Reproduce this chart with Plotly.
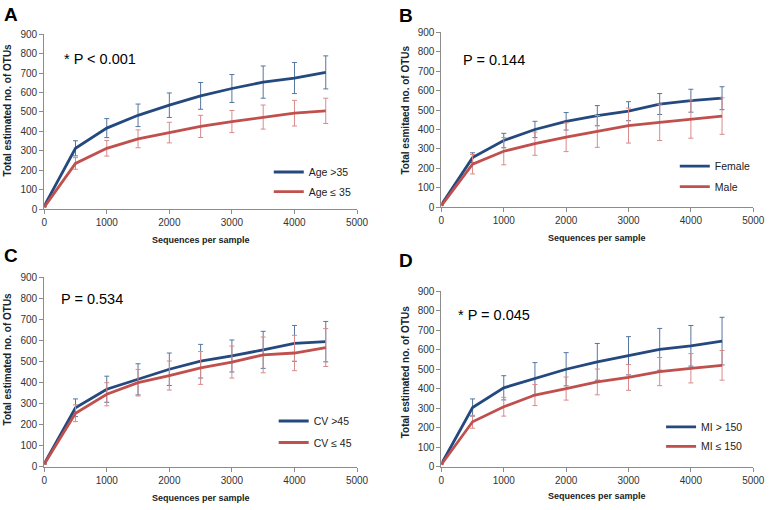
import plotly.graph_objects as go

# ---------------- data ----------------
seqs = [0, 500, 1000, 1500, 2000, 2500, 3000, 3500, 4000, 4500]

A_hi = [15, 313, 417, 483, 535, 583, 621, 654, 675, 704]
A_hi_err = [0, 39, 49, 58, 63, 69, 72, 83, 80, 85]
A_lo = [10, 235, 313, 362, 394, 426, 451, 474, 494, 506]
A_lo_err = [0, 30, 40, 46, 53, 57, 57, 62, 66, 65]

B_fem = [12, 255, 343, 400, 442, 471, 494, 531, 548, 561]
B_fem_err = [0, 25, 37, 42, 45, 52, 49, 54, 59, 59]
B_male = [8, 221, 288, 327, 360, 390, 420, 437, 454, 469]
B_male_err = [0, 50, 70, 60, 74, 82, 90, 94, 99, 94]

C_hi = [15, 281, 369, 416, 464, 502, 527, 556, 587, 595]
C_hi_err = [0, 42, 62, 74, 77, 80, 76, 88, 85, 96]
C_lo = [12, 255, 345, 400, 434, 470, 498, 532, 541, 567]
C_lo_err = [0, 40, 55, 63, 69, 78, 76, 85, 84, 90]

D_hi = [15, 304, 405, 452, 500, 538, 569, 602, 620, 644]
D_hi_err = [0, 44, 62, 82, 85, 94, 98, 107, 104, 122]
D_lo = [12, 231, 308, 368, 401, 435, 458, 488, 505, 520]
D_lo_err = [0, 33, 48, 54, 59, 66, 66, 72, 75, 76]

panel_letters = ["A", "B", "C", "D"]
p_texts = ["* P < 0.001", "P = 0.144", "P = 0.534", "* P = 0.045"]
series_names = [("Age >35", "Age ≤ 35"), ("Female", "Male"),
                ("CV >45", "CV ≤ 45"), ("MI > 150", "MI ≤ 150")]
y_titles = ["Total estimated no. of OTUs", "Total esmitaed no. of OTUs",
            "Total estimated no. of OTUs", "Total estimated no. of OTUs"]
x_title = "Sequences per sample"
x_ticks = [0, 1000, 2000, 3000, 4000, 5000]
y_ticks = [0, 100, 200, 300, 400, 500, 600, 700, 800, 900]

panels = [
    (A_hi, A_hi_err, A_lo, A_lo_err),
    (B_fem, B_fem_err, B_male, B_male_err),
    (C_hi, C_hi_err, C_lo, C_lo_err),
    (D_hi, D_hi_err, D_lo, D_lo_err),
]

# ---------------- style / layout ----------------
W, H = 778, 510
BLUE = "#24497f"
RED = "#c0504d"
BLUE_ERR = "#56769f"
RED_ERR = "#d98a8a"
AX = "#8c8c8c"
FONT = "Liberation Sans, Arial, sans-serif"

# plot areas in window pixels: (left, right, top, bottom)
areas = [(42, 361, 29, 208), (447, 765, 27, 206),
         (42, 361, 278, 472), (447, 765, 292, 472)]
letter_pos = [(8, 9), (411, 10), (8, 255), (411, 261)]
p_pos = [(60, 54), (467, 55), (57, 300), (462, 316)]
ytitle_pos = [(5, 107), (410, 107), (5, 362), (410, 375)]
xtitle_y = [240, 238, 504, 502]
legend_pos = [(283, 172, 192), (697, 166, 187), (288, 427, 449), (683, 433, 453)]


def px(x):
    return x / W


def py(y):
    return 1 - y / H


fig = go.Figure()
layout = dict(
    width=W, height=H, margin=dict(l=0, r=0, t=0, b=0),
    paper_bgcolor="white", plot_bgcolor="white",
    font=dict(family=FONT, size=10, color="#333333"),
    showlegend=True,
)
annotations = []

for i, (hi, hi_e, lo, lo_e) in enumerate(panels):
    n = "" if i == 0 else str(i + 1)
    l, r, t, b = areas[i]
    layout["xaxis" + n] = dict(
        domain=[px(l), px(r)], anchor="y" + n, range=[0, 5000],
        tickvals=x_ticks, showgrid=False, zeroline=False,
        showline=True, linecolor=AX, linewidth=1,
        ticks="outside", ticklen=4, tickcolor=AX,
        tickfont=dict(size=10, color="#333333"),
    )
    layout["yaxis" + n] = dict(
        domain=[py(b), py(t)], anchor="x" + n, range=[0, 900],
        tickvals=y_ticks, showgrid=False, zeroline=False,
        showline=True, linecolor=AX, linewidth=1,
        ticks="outside", ticklen=4, tickcolor=AX,
        tickfont=dict(size=10, color="#333333"),
    )
    lg1 = "legend" if i == 0 else "legend" + str(2 * i + 1)
    lg2 = "legend" + str(2 * i + 2)
    for vals, errs, col, ecol, name, lg, ly in [
        (hi, hi_e, BLUE, BLUE_ERR, series_names[i][0], lg1, legend_pos[i][1]),
        (lo, lo_e, RED, RED_ERR, series_names[i][1], lg2, legend_pos[i][2]),
    ]:
        fig.add_trace(go.Scatter(
            x=seqs, y=vals, mode="lines", name=name,
            line=dict(color=col, width=2.8),
            error_y=dict(type="data", array=errs, visible=True,
                         color=ecol, thickness=1, width=2.5),
            xaxis="x" + n, yaxis="y" + n, legend=lg,
        ))
        layout[lg] = dict(
            x=px(legend_pos[i][0] - 12), y=py(ly - 2), xanchor="left", yanchor="middle",
            bgcolor="rgba(0,0,0,0)", font=dict(size=10.5, color="#222222"),
            itemwidth=30, tracegroupgap=0,
        )
    # panel letter
    annotations.append(dict(
        text="<b>" + panel_letters[i] + "</b>", x=px(letter_pos[i][0]), y=py(letter_pos[i][1]),
        xref="paper", yref="paper", showarrow=False, xanchor="center", yanchor="middle",
        font=dict(size=19, color="black", family=FONT)))
    # P value
    annotations.append(dict(
        text=p_texts[i], x=px(p_pos[i][0]), y=py(p_pos[i][1]),
        xref="paper", yref="paper", showarrow=False, xanchor="left", yanchor="middle",
        font=dict(size=14.5, color="black", family=FONT)))
    # y title
    annotations.append(dict(
        text="<b>" + y_titles[i] + "</b>", x=px(ytitle_pos[i][0]), y=py(ytitle_pos[i][1]),
        xref="paper", yref="paper", showarrow=False, xanchor="center", yanchor="middle",
        textangle=-90, font=dict(size=10, color="#222222", family=FONT)))
    # x title
    annotations.append(dict(
        text="<b>" + x_title + "</b>", x=px((l + r) / 2), y=py(xtitle_y[i]),
        xref="paper", yref="paper", showarrow=False, xanchor="center", yanchor="middle",
        font=dict(size=9, color="#222222", family=FONT)))

layout["annotations"] = annotations
fig.update_layout(**layout)
fig.write_html("out.html", config={"displayModeBar": False},
               post_script="document.body.style.margin='0';")
